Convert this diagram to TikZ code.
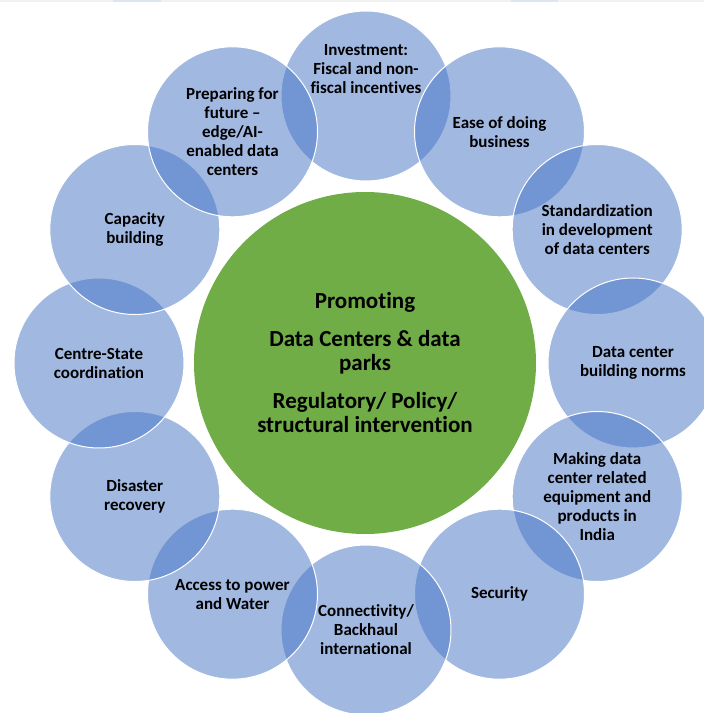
\documentclass[tikz,border=0pt]{standalone}
\usepackage{fontspec}
\setmainfont{Carlito}[Ligatures={TeX,NoCommon}]
\definecolor{bubbleblue}{HTML}{4472C4}
\definecolor{hubgreen}{HTML}{70AD47}
\definecolor{stripgray}{HTML}{F2F2F2}
\definecolor{stripblue}{HTML}{DFE5EE}
\tikzset{
  bubble/.style={circle, minimum size=170pt, inner sep=0pt, fill=bubbleblue,
    fill opacity=0.5, text opacity=1, draw=white, line width=1pt, align=center,
    font=\bfseries\fontsize{17}{19}\selectfont},
  bubbletext/.style={align=center, inner sep=0pt, font=\bfseries\fontsize{17}{19}\selectfont},
  hub/.style={circle, minimum size=342pt, inner sep=0pt, fill=hubgreen, align=center,
    font=\bfseries\fontsize{23}{24}\selectfont}
}
\begin{document}
\begin{tikzpicture}[x=1pt,y=1pt]
    \useasboundingbox (0,0) rectangle (704,713);

    % Franja superior
    \fill[stripgray] (0,710.5) rectangle (704,713);
    \fill[stripblue] (113,710.5) rectangle (161,713);
    \fill[stripblue] (511,710.5) rectangle (558,713);

    % Circulo central
    \node[hub] (hub) at (365,350) {Promoting\\[14pt] Data Centers \& data\\ parks\\[14pt]
      Regulatory/ Policy/\\ structural intervention};

    % Circulos exteriores (en sentido horario desde arriba)
    \node[bubble] (invest) at (366,617) {};
    \node[bubble] (ease) at (499.5,581.2) {Ease of doing\\ business};
    \node[bubble] (standard) at (597.2,483.5) {Standardization\\ in development\\ of data centers};
    \node[bubble] (norms) at (633,350) {Data center\\ building norms};
    \node[bubble] (making) at (597.2,216.5) {Making data\\ center related\\ equipment and\\ products in\\ India};
    \node[bubble] (security) at (499.5,118.8) {Security};
    \node[bubble] (connect) at (366,83) {Connectivity/\\ Backhaul\\ international};
    \node[bubble] (power) at (232.5,118.8) {Access to power\\ and Water};
    \node[bubble] (disaster) at (134.8,216.5) {Disaster\\ recovery};
    \node[bubble] (centre) at (99,350) {Centre-State\\ coordination};
    \node[bubble] (capacity) at (134.8,483.5) {Capacity\\ building};
    \node[bubble] (future) at (232.5,581.2) {Preparing for\\ future --\\ edge/AI-\\ enabled data\\ centers};

    % Texto del circulo superior
    \node[bubbletext] (investtext) at (366,644) {Investment:\\ Fiscal and non-\\ fiscal incentives};
\end{tikzpicture}
\end{document}
